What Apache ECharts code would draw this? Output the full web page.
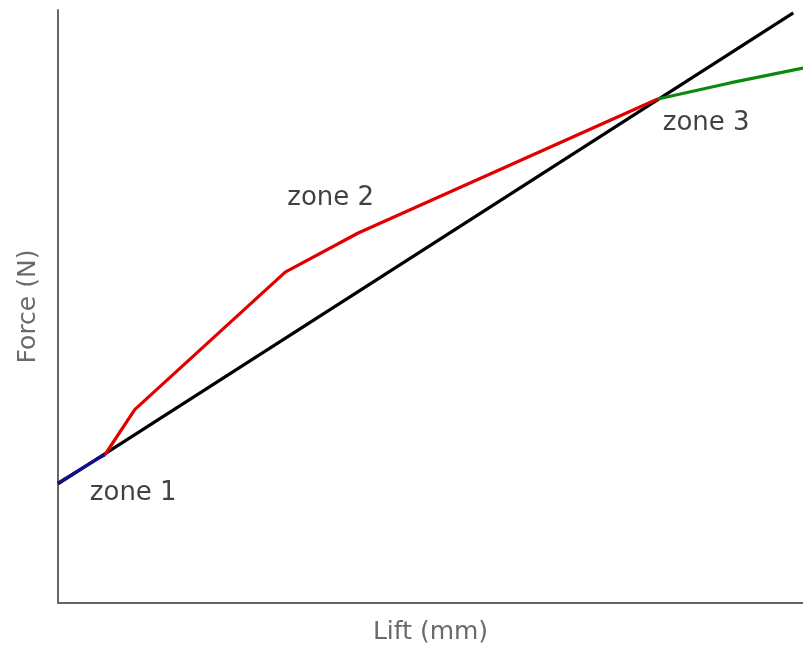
<!DOCTYPE html>
<html><head><meta charset="utf-8">
<script src="https://cdn.jsdelivr.net/npm/echarts@6/dist/echarts.min.js"></script>
<style>html,body{margin:0;padding:0;background:#fff}#c{width:803px;height:645px}</style>
</head><body><div id="c"></div>
<script>
// Lift (x) and Force (y), arbitrary units (axes have no ticks)
const blackLine = [[0, 20.1], [98.7, 99.5]];
const zone1 = [[0, 20.2], [5.4, 24.4], [6.3, 25.0]];
const zone2 = [[6.3, 25.0], [10.3, 32.6], [30.5, 55.8], [40.3, 62.4], [80.5, 85.0]];
const zone3 = [[80.5, 85.0], [90.2, 87.7], [100, 90.2]];
const zoneLabels = ['zone 1', 'zone 2', 'zone 3'];
const zoneLabelAt = [[10.1, 18.5], [36.6, 68.3], [87.0, 80.9]];

const chart = echarts.init(document.getElementById('c'));
const lineS = (data, color) => ({
  type: 'line', data, symbol: 'none', silent: true,
  lineStyle: { color, width: 3.2 }
});
chart.setOption({
  animation: false,
  grid: { left: 58, right: 0, top: 10, bottom: 42, outerBoundsMode: 'none', containLabel: false },
  xAxis: {
    type: 'value', min: 0, max: 100,
    name: 'Lift (mm)', nameLocation: 'middle', nameGap: 17,
    nameTextStyle: { fontFamily: 'DejaVu Sans', fontSize: 25, color: '#6a6a6a' },
    axisLine: { show: true, onZero: false, lineStyle: { color: '#666', width: 2 } },
    axisTick: { show: false }, axisLabel: { show: false }, splitLine: { show: false }
  },
  yAxis: {
    type: 'value', min: 0, max: 100,
    name: 'Force (N)', nameLocation: 'middle', nameGap: 17,
    nameTextStyle: { fontFamily: 'DejaVu Sans', fontSize: 25, color: '#6a6a6a' },
    axisLine: { show: true, onZero: false, lineStyle: { color: '#666', width: 2 } },
    axisTick: { show: false }, axisLabel: { show: false }, splitLine: { show: false }
  },
  series: [
    lineS(blackLine, '#000000'),
    lineS(zone1, '#10108a'),
    lineS(zone2, '#e00000'),
    lineS(zone3, '#0a8a0a'),
    {
      type: 'scatter', symbolSize: 0, silent: true,
      data: zoneLabelAt.map((p, i) => ({ value: p, name: zoneLabels[i] })),
      label: {
        show: true, position: 'inside', formatter: p => p.name,
        fontFamily: 'DejaVu Sans', fontSize: 26, color: '#111'
      }
    }
  ]
});
</script></body></html>
